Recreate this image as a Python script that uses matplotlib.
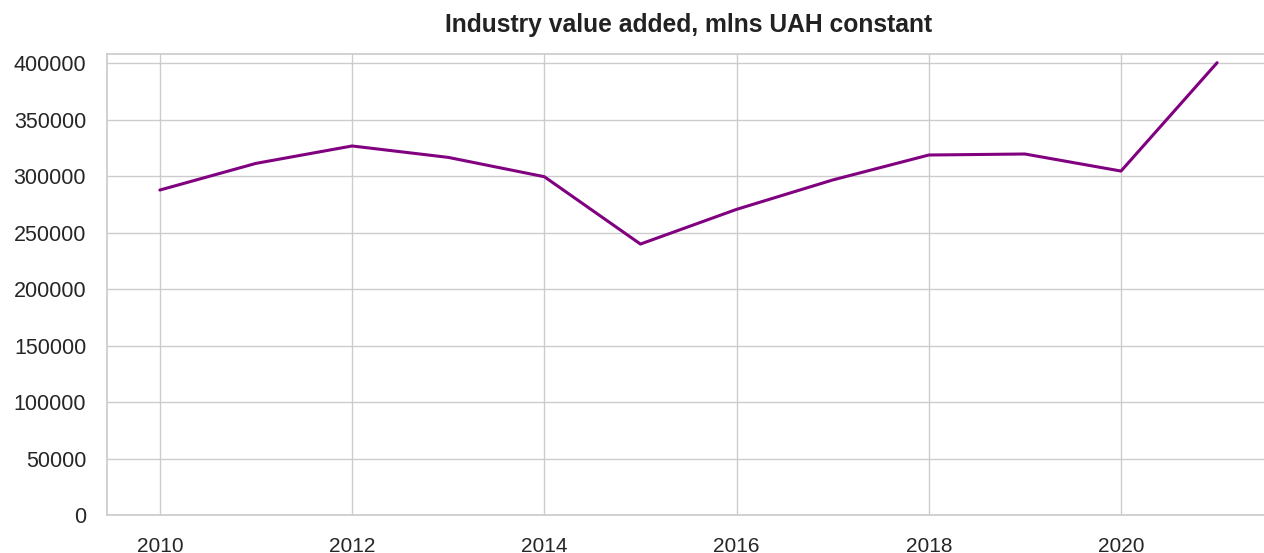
import matplotlib
matplotlib.use("Agg")
import matplotlib.pyplot as plt
import seaborn as sns

years = [2010, 2011, 2012, 2013, 2014, 2015, 2016, 2017, 2018, 2019, 2020, 2021]
values = [287600, 311200, 326600, 316500, 299400, 239800, 270500, 296500, 318600, 319500, 304400, 400300]
yticks = [0, 50000, 100000, 150000, 200000, 250000, 300000, 350000, 400000]
xticks = [2010, 2012, 2014, 2016, 2018, 2020]

sns.set_theme(style="whitegrid")
plt.rcParams['font.family'] = ['Liberation Sans', 'DejaVu Sans']

W, H = 1264, 553
fig = plt.figure(figsize=(W/100, H/100), dpi=100)
left, right, top, bottom = 107, 1270, 54, 515
ax = fig.add_axes([left/W, 1 - bottom/H, (right-left)/W, (bottom-top)/H])
ax.plot(years, values, color='#800080', linewidth=2.2)
ax.set_xlim(2009.45, 2021.55)
ax.set_ylim(0, 408000)
ax.set_yticks(yticks)
ax.set_yticklabels([str(v) for v in yticks])
ax.set_xticks(xticks)
ax.tick_params(axis='y', labelsize=15.5, colors='#262626', pad=9)
ax.tick_params(axis='x', labelsize=15, colors='#262626', pad=9.5)
ax.set_title("Industry value added, mlns UAH constant", fontsize=17.7, fontweight='bold', color='#222222', pad=15.5)
for s in ax.spines.values():
    s.set_color('#cccccc')
fig.savefig("out.png", dpi=100)
